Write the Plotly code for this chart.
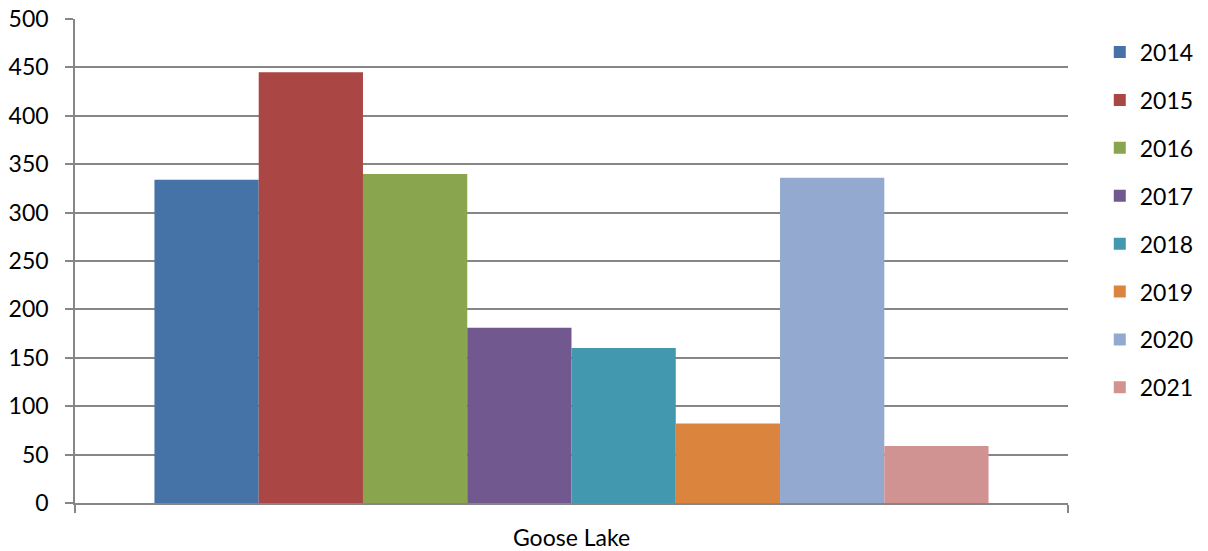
import plotly.graph_objects as go

categories = ["Goose Lake"]
years = ["2014", "2015", "2016", "2017", "2018", "2019", "2020", "2021"]
values = [334, 445, 340, 181, 160, 82, 336, 59]
colors = ["#4572A7", "#AA4643", "#89A54E", "#71588F", "#4198AF", "#DB843D", "#93A9CF", "#D19392"]
y_ticks = [0, 50, 100, 150, 200, 250, 300, 350, 400, 450, 500]

fig = go.Figure()
for yr, v, c in zip(years, values, colors):
    fig.add_trace(go.Bar(x=categories, y=[v], name=yr, marker_color=c,
                         marker_line_width=0, legendgroup=yr))

font = dict(family="Lato, Carlito, Open Sans, sans-serif", size=23, color="#000000")
fig.update_layout(
    width=1208, height=551,
    margin=dict(l=75, r=140, t=19, b=48, autoexpand=False),
    paper_bgcolor="white", plot_bgcolor="white",
    barmode="group", bargap=0.16, bargroupgap=0,
    font=font,
    showlegend=True,
    legend=dict(x=1.032, y=0.976, xanchor="left", yanchor="top",
                traceorder="grouped", tracegroupgap=15,
                font=font, itemwidth=30),
    xaxis=dict(type="category", showline=True, linecolor="#868686", linewidth=1.5,
               ticks="outside", tickson="boundaries", ticklen=8, tickcolor="#868686",
               tickwidth=1.5, showgrid=False, tickfont=font, automargin=False,
               ticklabelstandoff=14),
    yaxis=dict(range=[0, 500], tickvals=y_ticks, showline=True, linecolor="#868686",
               linewidth=1.5, ticks="outside", ticklen=8, tickcolor="#868686", tickwidth=1.5,
               showgrid=True, gridcolor="#868686", gridwidth=1.5, zeroline=False,
               tickfont=font, automargin=False, ticklabelstandoff=12,
               ticklabeloverflow="allow"),
)
fig.write_html("out.html", config={"displayModeBar": False},
               post_script="document.body.style.margin='0';")
